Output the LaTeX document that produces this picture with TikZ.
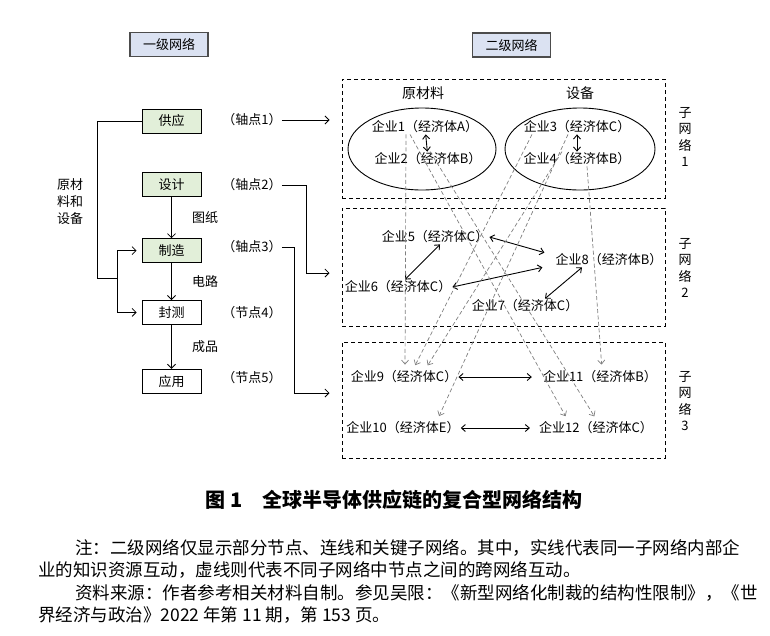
\documentclass[tikz,border=0pt]{standalone}
\usepackage{xcolor}
\usepackage{fontspec}
\setmainfont{Noto Sans CJK SC}
\usepackage{tikz}
\usetikzlibrary{shapes.geometric, arrows.meta, positioning}

\definecolor{levelblue}{RGB}{219,226,242}
\definecolor{stagegreen}{RGB}{226,239,217}

\begin{document}
\begin{tikzpicture}[
    x=1pt, y=-1pt,
    font=\fontsize{13}{16}\selectfont,
    level/.style={draw=black!70, line width=1.5pt, fill=levelblue, minimum width=78pt, minimum height=24pt, inner sep=0pt},
    stage/.style={draw, line width=0.8pt, minimum width=59pt, minimum height=24pt, inner sep=0pt},
    pivot/.style={inner sep=0pt},
    subnet/.style={draw, line width=1pt, dash pattern=on 4pt off 3pt},
    cluster/.style={draw, ellipse, line width=0.9pt, minimum width=148pt, minimum height=82pt},
    firm/.style={inner sep=1pt},
    vlabel/.style={align=center, font=\fontsize{13}{16.5}\selectfont},
    arrow/.style={-{Straight Barb[length=4pt, width=8pt]}, line width=0.8pt},
    link/.style={{Straight Barb[length=4pt, width=7pt]}-{Straight Barb[length=4pt, width=7pt]}, line width=0.9pt},
    cross/.style={-{Straight Barb[length=4pt, width=7pt]}, gray, line width=0.7pt, dash pattern=on 4pt off 2.5pt, shorten >=5pt}
]
    \fill[white] (0,0) rectangle (770,635);
    \useasboundingbox (0,0) rectangle (770,635);

    % Level headings
    \node[level] (lvl1) at (169,44.5) {一级网络};
    \node[level] (lvl2) at (511.5,45) {二级网络};

    % First level: chain of stages
    \node[stage, fill=stagegreen] (supply) at (171.5,121) {供应};
    \node[stage, fill=stagegreen, below=39pt of supply] (design) {设计};
    \node[stage, fill=stagegreen, below=41pt of design] (make) {制造};
    \node[stage, below=37pt of make] (pack) {封测};
    \node[stage, below=44pt of pack] (apply) {应用};

    % Pivot labels
    \node[pivot] (p1) at (252,120) {（轴点1）};
    \node[pivot] (p2) at (252,185) {（轴点2）};
    \node[pivot] (p3) at (252,247) {（轴点3）};
    \node[pivot] (p4) at (252,313) {（节点4）};
    \node[pivot] (p5) at (252,378) {（节点5）};

    % Materials and equipment feed
    \node[align=center, font=\fontsize{13}{17}\selectfont] (feed) at (70,202) {原材\\料和\\设备};
    \coordinate (jn) at (117,278);

    % Second level: sub-networks
    \node[subnet, minimum width=323pt, minimum height=119pt] (net1) at (503.5,138.5) {};
    \node[subnet, minimum width=323pt, minimum height=118pt] (net2) at (503.5,267) {};
    \node[subnet, minimum width=323pt, minimum height=116pt] (net3) at (503.5,400) {};

    \node[vlabel] (tag1) at (685,137) {子\\网\\络\\1};
    \node[vlabel] (tag2) at (685,268) {子\\网\\络\\2};
    \node[vlabel] (tag3) at (685,401) {子\\网\\络\\3};

    % Sub-network 1
    \node[cluster] (rawmat) at (422,149) {};
    \node[cluster, minimum width=150pt] (equip) at (580,149) {};
    \node[font=\fontsize{14}{16}\selectfont] (rawlbl) at (423,93) {原材料};
    \node[font=\fontsize{14}{16}\selectfont] (eqlbl) at (580,93) {设备};

    \node[firm] (e1) at (425,127) {企业1（经济体A）};
    \node[firm] (e2) at (428,159) {企业2（经济体B）};
    \node[firm] (e3) at (577,127) {企业3（经济体C）};
    \node[firm] (e4) at (577,159) {企业4（经济体B）};

    % Sub-network 2
    \node[firm] (e5) at (435,237) {企业5（经济体C）};
    \node[firm] (e8) at (609,260) {企业8（经济体B）};
    \node[firm] (e6) at (398,287) {企业6（经济体C）};
    \node[firm] (e7) at (525,306) {企业7（经济体C）};

    % Sub-network 3
    \node[firm] (e9) at (404,377) {企业9（经济体C）};
    \node[firm] (e11) at (600,377) {企业11（经济体B）};
    \node[firm] (e10) at (403,428) {企业10（经济体E）};
    \node[firm] (e12) at (596,428) {企业12（经济体C）};

    % Chain arrows
    \draw[arrow] (design) -- node[right=17pt] {图纸} (make);
    \draw[arrow] (make) -- node[right=17pt] {电路} (pack);
    \draw[arrow] (pack) -- node[right=17pt] {成品} (apply);

    \draw[line width=0.8pt] (supply.west) -- ++(-44,0) |- (jn);
    \draw[arrow, shorten >=5pt] (jn) |- (make.west);
    \draw[arrow, shorten >=5pt] (jn) |- (pack.west);

    % Pivots into the second level
    \draw[arrow, shorten >=12pt] (p1.east) -- (p1.east -| net1.west);
    \draw[arrow, shorten >=12pt] (p2.east) -- ++(25,0) |- ([yshift=-6pt]net2.west);
    \draw[arrow, shorten >=12pt] (p3.east) -- ++(13,0) |- ([yshift=7pt]net3.west);

    % Links inside sub-networks
    \draw[link] (e1) -- (e2);
    \draw[link] (e3) -- (e4);
    \draw[link] (e5.east) -- ([xshift=-10pt]e8.north west);
    \draw[link] ([xshift=5pt]e5.south) -- ([xshift=7pt]e6.north);
    \draw[link] (e6.east) -- ([xshift=-12pt]e8.south west);
    \draw[link] ([xshift=-27pt]e8.south) -- ([xshift=20pt]e7.north);
    \draw[link, shorten >=10pt] (e9.east) -- (e11.west);
    \draw[link, shorten >=8pt] (e10.east) -- (e12.west);

    % Links across sub-networks
    \draw[cross] ([xshift=-19pt]e1.south) -- ([xshift=1pt]e9.north);
    \draw[cross] ([xshift=-15pt]e1.south) -- ([xshift=-28pt]e12.north);
    \draw[cross] ([xshift=2pt]e2.north) -- ([xshift=1pt]e12.north);
    \draw[cross] ([xshift=10pt]e4.south) -- ([xshift=2pt]e11.north);
    \draw[cross] ([xshift=-9pt]e3.south) -- ([xshift=34pt]e10.north);
    \draw[cross] ([xshift=-15pt]e4.north) -- ([xshift=21pt]e9.north);
    \draw[cross] ([xshift=-45pt]e3.south) -- ([xshift=9pt]e9.north);

    % Caption and notes
    \node[font=\fontsize{20}{24}\selectfont\bfseries] (cap) at (394,500) {图 1\hspace{1em}全球半导体供应链的复合型网络结构};
    \node[anchor=west, inner sep=0pt, font=\fontsize{17.5}{20}\selectfont] (note1) at (75,548) {注：二级网络仅显示部分节点、连线和关键子网络。其中，实线代表同一子网络内部企};
    \node[anchor=west, inner sep=0pt, font=\fontsize{17.5}{20}\selectfont] (note2) at (38,570) {业的知识资源互动，虚线则代表不同子网络中节点之间的跨网络互动。};
    \node[anchor=west, inner sep=0pt, font=\fontsize{17.5}{20}\selectfont] (note3) at (75,593) {资料来源：作者参考相关材料自制。参见吴限：《新型网络化制裁的结构性限制》，《世};
    \node[anchor=west, inner sep=0pt, font=\fontsize{17.5}{20}\selectfont] (note4) at (38,615) {界经济与政治》2022 年第 11 期，第 153 页。};
\end{tikzpicture}
\end{document}
